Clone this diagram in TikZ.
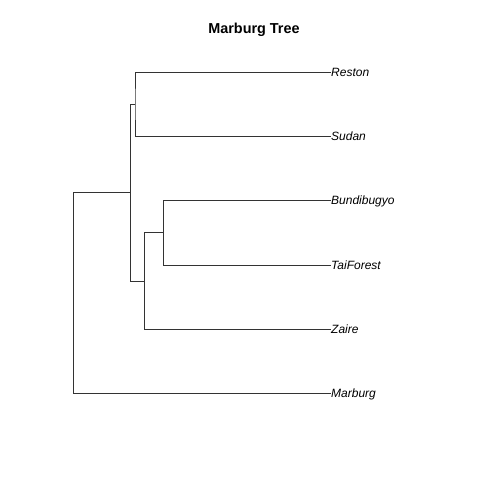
\documentclass[tikz,border=0pt]{standalone}
\usepackage{fontspec}
\setmainfont{Liberation Sans}
\begin{document}
\begin{tikzpicture}[x=1pt,y=-1pt,
  branch/.style={draw=black!80,line width=0.6pt},
  tip/.style={anchor=base west,inner sep=0pt,yshift=-4.3pt,font=\fontsize{12}{14}\selectfont\itshape},
  ttl/.style={font=\fontsize{14.4}{16}\selectfont\bfseries}]
\useasboundingbox (0,0) rectangle (480,480);
\fill[white] (0,0) rectangle (480,480);
\node[ttl] (title) at (254,30) {Marburg Tree};
% tip coordinates
\coordinate (treston) at (331,72);
\coordinate (tsudan) at (331,136.5);
\coordinate (tbundi) at (331,200.5);
\coordinate (ttai) at (331,265);
\coordinate (tzaire) at (331,329);
\coordinate (tmarburg) at (331,393.3);
% labels
\node[tip] (reston) at (treston) {Reston};
\node[tip] (sudan) at (tsudan) {Sudan};
\node[tip] (bundi) at (tbundi) {Bundibugyo};
\node[tip] (tai) at (ttai) {TaiForest};
\node[tip] (zaire) at (tzaire) {Zaire};
\node[tip] (marburg) at (tmarburg) {Marburg};
% internal nodes
\coordinate (rs) at (135,104.2);
\coordinate (bt) at (163.3,232.7);
\coordinate (btz) at (144.3,280.9);
\coordinate (ing) at (130.3,192.5);
\coordinate (root) at (73.3,292.9);
\draw[branch] (treston) -| (rs) |- (tsudan);
\draw[branch] (tbundi) -| (bt) |- (ttai);
\draw[branch] (bt) -- (bt -| btz);
\draw[branch] (bt -| btz) -- (btz) |- (tzaire);
\draw[branch] (rs) -- (rs -| ing) -- (ing) -- (ing |- btz) -- (btz);
\draw[branch] (ing) -- (ing -| root) -- (root) |- (tmarburg);
\end{tikzpicture}
\end{document}
